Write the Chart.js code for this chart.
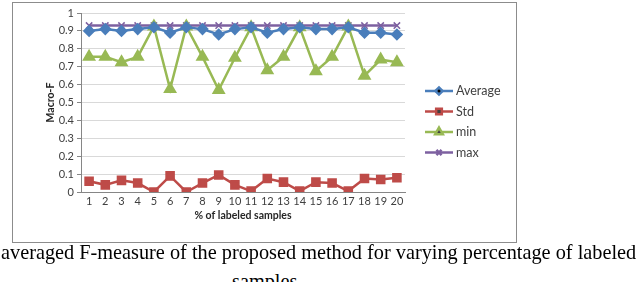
<!DOCTYPE html>
<html>
<head>
<meta charset="utf-8">
<script src="https://cdn.jsdelivr.net/npm/chart.js@4"></script>
<style>
  html, body { margin: 0; padding: 0; background: #fff; }
  body { width: 640px; height: 282px; position: relative; overflow: hidden; }
  #frame { position: absolute; left: 12px; top: 2px; width: 503px; height: 239px; border: 1px solid #8c8c8c; }
  #frame canvas { display: block; }
  .cap { position: absolute; font-family: "Liberation Serif", "DejaVu Serif", serif; font-size: 20.3px; line-height: 23px; color: #000; white-space: nowrap; }
  #cap1 { left: 1px; top: 241px; }
  #cap2 { left: 232px; top: 270px; }
</style>
</head>
<body>
<div id="frame"><canvas id="chart" width="503" height="239"></canvas></div>
<div class="cap" id="cap1">averaged F-measure of the proposed method for varying percentage of labeled</div>
<div class="cap" id="cap2">samples</div>
<script>
// Values
const labels = ['1','2','3','4','5','6','7','8','9','10','11','12','13','14','15','16','17','18','19','20'];
const averageVals = [0.90, 0.91, 0.90, 0.91, 0.92, 0.89, 0.92, 0.91, 0.88, 0.91, 0.92, 0.89, 0.91, 0.92, 0.91, 0.91, 0.92, 0.89, 0.89, 0.88];
const stdVals = [0.06, 0.04, 0.065, 0.05, 0.0, 0.09, 0.0, 0.05, 0.095, 0.04, 0.005, 0.075, 0.055, 0.005, 0.055, 0.05, 0.005, 0.075, 0.07, 0.08];
const minVals = [0.755, 0.755, 0.725, 0.755, 0.925, 0.575, 0.925, 0.755, 0.57, 0.75, 0.92, 0.68, 0.755, 0.92, 0.675, 0.755, 0.925, 0.65, 0.74, 0.725];
const maxVals = [0.93, 0.93, 0.93, 0.93, 0.93, 0.93, 0.93, 0.93, 0.93, 0.93, 0.93, 0.93, 0.93, 0.93, 0.93, 0.93, 0.93, 0.93, 0.93, 0.93];
const seriesNames = ['Average', 'Std', 'min', 'max'];

const FONT = 'Lato';

// legend drawn as line + marker, like the spreadsheet legend
const lineLegend = {
    id: 'lineLegend',
    afterDraw(chart) {
        const ctx = chart.ctx;
        const x0 = 412, y0 = 88, gap = 20.5;
        ctx.save();
        chart.data.datasets.forEach((ds, i) => {
            const y = y0 + i * gap;
            ctx.strokeStyle = ds.borderColor;
            ctx.lineWidth = 2.5;
            ctx.beginPath();
            ctx.moveTo(x0, y);
            ctx.lineTo(x0 + 28, y);
            ctx.stroke();
            Chart.helpers.drawPoint(ctx, {
                pointStyle: ds.pointStyle,
                radius: ds.pointRadius * 0.8,
                rotation: ds.pointRotation || 0,
                borderWidth: ds.pointBorderWidth || 1
            }, x0 + 14, y);
            ctx.fillStyle = '#404040';
            ctx.font = '12.5px ' + FONT;
            ctx.textBaseline = 'middle';
            ctx.fillText(ds.label, x0 + 31, y);
        });
        ctx.restore();
    }
};

function series(label, data, color, style, radius, extra) {
    return Object.assign({
        label: label,
        data: data,
        borderColor: color,
        backgroundColor: color,
        pointBackgroundColor: color,
        pointBorderColor: color,
        borderWidth: 2.5,
        pointStyle: style,
        pointRadius: radius,
        tension: 0
    }, extra || {});
}

new Chart(document.getElementById('chart'), {
    type: 'line',
    data: {
        labels: labels,
        datasets: [
            series(seriesNames[0], averageVals, '#4A7EBB', 'rectRot', 4.5),
            series(seriesNames[1], stdVals, '#BE4B48', 'rect', 5),
            series(seriesNames[2], minVals, '#98B954', 'triangle', 5.5),
            series(seriesNames[3], maxVals, '#7D60A0', 'crossRot', 4.5, { pointBorderWidth: 1.5 })
        ]
    },
    options: {
        responsive: false,
        animation: false,
        layout: { padding: { top: 10, right: 111, bottom: 0, left: 0 } },
        plugins: {
            legend: { display: false },
            tooltip: { enabled: false }
        },
        scales: {
            x: {
                offset: true,
                grid: { display: false, drawTicks: false, tickLength: 0 },
                border: { display: true, color: '#868686', width: 1 },
                ticks: { color: '#404040', font: { family: FONT, size: 11 }, padding: 3, maxRotation: 0, autoSkip: false },
                title: { display: true, text: '% of labeled samples', color: '#262626', font: { family: FONT, size: 10.5, weight: 'bold' }, padding: { top: 0, bottom: 20 } },
                afterFit(scale) { scale.height = 50; }
            },
            y: {
                min: 0,
                max: 1,
                grid: { color: '#d9d9d9', lineWidth: 1, tickLength: 4, tickColor: '#868686' },
                border: { display: true, color: '#868686', width: 1 },
                ticks: {
                    stepSize: 0.1, color: '#404040', font: { family: FONT, size: 11 }, padding: 3,
                    callback: (v) => String(Number(v.toFixed(1)))
                },
                title: { display: true, text: 'Macro-F', color: '#262626', font: { family: FONT, size: 10.5, weight: 'bold' }, padding: { top: 31, bottom: 0 } },
                afterFit(scale) { scale.width = 68; }
            }
        }
    },
    plugins: [lineLegend]
});
</script>
</body>
</html>
